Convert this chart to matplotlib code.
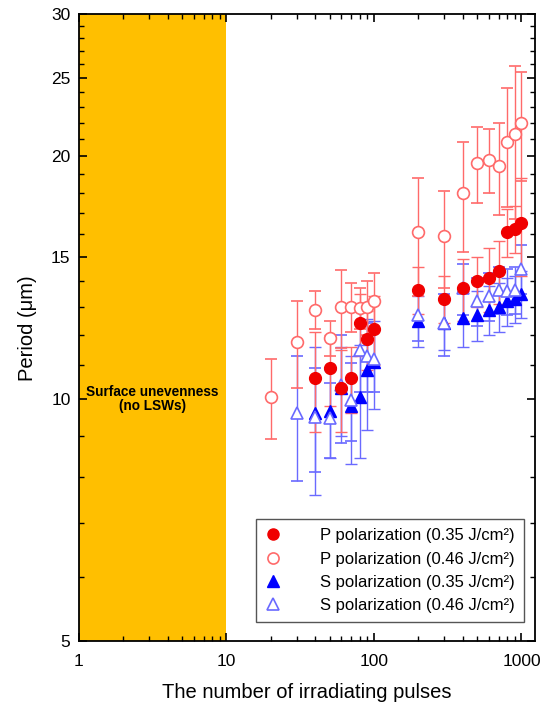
import numpy as np
import matplotlib.pyplot as plt
from matplotlib.lines import Line2D
from matplotlib.ticker import FixedLocator, NullFormatter

plt.rcParams['font.family'] = ['Liberation Sans', 'DejaVu Sans']

# P polarization, 0.35 J/cm2 (filled circles)
x_p35 = [40, 50, 60, 70, 80, 90, 100, 200, 300, 400, 500, 600, 700, 800, 900, 1000]
y_p35 = [10.6, 10.9, 10.3, 10.6, 12.4, 11.85, 12.2, 13.65, 13.3, 13.7, 14.0, 14.1, 14.4, 16.1, 16.25, 16.5]
e_p35 = [1.5, 1.1, 1.2, 1.0, 1.1, 1.0, 1.2, 0.9, 0.9, 1.2, 1.0, 1.3, 1.3, 1.1, 1.1, 2.3]

# P polarization, 0.46 J/cm2 (open circles)
x_p46 = [20, 30, 40, 50, 60, 70, 80, 90, 100, 200, 300, 400, 500, 600, 700, 800, 900, 1000]
y_p46 = [10.05, 11.75, 12.9, 11.9, 13.0, 13.0, 12.95, 13.0, 13.2, 16.1, 15.9, 18.0, 19.6, 19.8, 19.45, 20.8, 21.3, 22.0]
e_p46 = [1.15, 1.45, 0.7, 0.6, 1.45, 0.9, 0.75, 1.0, 1.1, 2.7, 2.2, 2.8, 2.1, 1.8, 2.55, 3.5, 4.6, 3.4]

# S polarization, 0.35 J/cm2 (filled triangles)
x_s35 = [40, 50, 60, 70, 80, 90, 100, 200, 300, 400, 500, 600, 700, 800, 900, 1000]
y_s35 = [9.6, 9.65, 10.3, 9.8, 10.05, 10.85, 11.1, 12.5, 12.4, 12.6, 12.7, 12.9, 13.0, 13.2, 13.3, 13.5]
e_s35 = [2.0, 1.2, 1.3, 1.5, 1.6, 1.7, 1.4, 0.9, 0.9, 1.0, 0.9, 0.9, 0.9, 0.9, 0.9, 0.9]

# S polarization, 0.46 J/cm2 (open triangles)
x_s46 = [30, 40, 50, 60, 70, 80, 90, 100, 200, 300, 400, 500, 600, 700, 800, 900, 1000]
y_s46 = [9.6, 9.5, 9.45, 10.4, 9.97, 11.5, 11.3, 11.2, 12.7, 12.4, 13.7, 13.2, 13.4, 13.65, 13.6, 13.65, 14.5]
e_s46 = [1.7, 1.4, 1.0, 1.6, 1.1, 1.3, 1.1, 1.0, 0.9, 1.1, 1.0, 0.9, 0.9, 0.9, 0.9, 0.9, 1.0]

labels = ['P polarization (0.35 J/cm²)', 'P polarization (0.46 J/cm²)',
          'S polarization (0.35 J/cm²)', 'S polarization (0.46 J/cm²)']

red = '#f00000'
red_l = '#ff6a6a'
blue = '#0000ff'
blue_l = '#6a6aff'

fig = plt.figure(figsize=(5.44, 7.07), dpi=100)
ax = fig.add_axes([0.145, 0.093, 0.838, 0.887])

ax.axvspan(1, 10, color='#ffbf00', lw=0, zorder=0)
ax.text(3.16, 10.0, 'Surface unevenness\n(no LSWs)', ha='center', va='center',
        fontsize=9.8, fontweight='bold', linespacing=1.0)

ms = 8.5
kw = dict(linestyle='none', capsize=4, elinewidth=1.0, capthick=1.0, zorder=3)
ax.errorbar(x_s35, y_s35, yerr=e_s35, fmt='^', ms=ms, color=blue, ecolor=blue_l, **kw)
ax.errorbar(x_s46, y_s46, yerr=e_s46, fmt='^', ms=ms, mfc='white', mec=blue_l, mew=1.2,
            ecolor=blue_l, **kw)
ax.errorbar(x_p35, y_p35, yerr=e_p35, fmt='o', ms=ms, color=red, ecolor=red_l, **kw)
ax.errorbar(x_p46, y_p46, yerr=e_p46, fmt='o', ms=ms, mfc='white', mec=red_l, mew=1.2,
            ecolor=red_l, **kw)

ax.set_xscale('log')
ax.set_yscale('log')
ax.set_xlim(1, 1230)
ax.set_ylim(5, 30)

ax.yaxis.set_major_locator(FixedLocator([5, 10, 15, 20, 25, 30]))
ax.yaxis.set_minor_locator(FixedLocator(list(range(6, 30))))
ax.set_yticklabels(['5', '10', '15', '20', '25', '30'])
ax.yaxis.set_minor_formatter(NullFormatter())
ax.set_xticks([1, 10, 100, 1000])
ax.set_xticklabels(['1', '10', '100', '1000'])

ax.tick_params(which='both', direction='in', top=True, right=True, labelsize=12.5)
ax.tick_params(axis='x', which='major', pad=9)
ax.tick_params(axis='y', which='major', pad=6)
ax.tick_params(which='major', length=6, width=1.2)
ax.tick_params(which='minor', length=3.5, width=1.0)
for s in ax.spines.values():
    s.set_linewidth(1.3)

ax.set_xlabel('The number of irradiating pulses', fontsize=14.5, labelpad=10)
ax.set_ylabel('Period (μm)', fontsize=14.5, labelpad=10)

handles = [
    Line2D([], [], ls='none', marker='o', ms=8, color=red),
    Line2D([], [], ls='none', marker='o', ms=8, mfc='white', mec=red_l, mew=1.2),
    Line2D([], [], ls='none', marker='^', ms=8, color=blue),
    Line2D([], [], ls='none', marker='^', ms=8, mfc='white', mec=blue_l, mew=1.2),
]
ax.legend(handles, labels, loc='lower right', bbox_to_anchor=(0.976, 0.03),
          borderaxespad=0, fontsize=12, fancybox=False, edgecolor='#555555',
          framealpha=1, handletextpad=2.3, borderpad=0.55, labelspacing=0.5,
          handlelength=1.0)

fig.savefig('out.png', dpi=100)
